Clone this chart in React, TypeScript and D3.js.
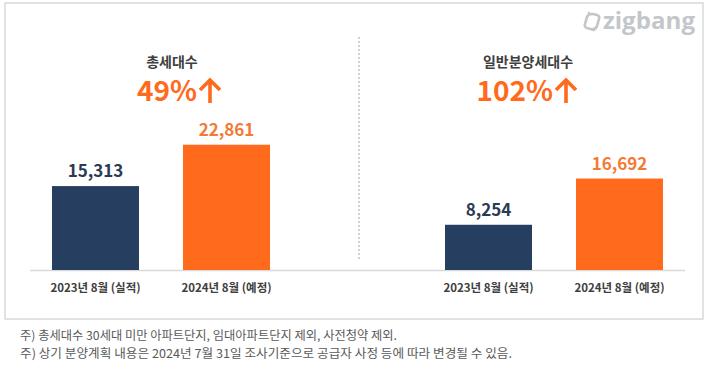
import React, { useRef, useEffect } from 'react'
import * as d3 from 'd3'

// chart data
const categories = ['2023년 8월 (실적)', '2024년 8월 (예정)']
const totalUnits = [15313, 22861]
const generalUnits = [8254, 16692]
const panelTitles = ['총세대수', '일반분양세대수']
const growthLabels = ['49%', '102%']
const footnotes = [
  '주) 총세대수 30세대 미만 아파트단지, 임대아파트단지 제외, 사전청약 제외.',
  '주) 상기 분양계획 내용은 2024년 7월 31일 조사기준으로 공급자 사정 등에 따라 변경될 수 있음.',
]
const footnoteWidths = [377, 492]

const W = 710
const H = 371
const FONT = '"Noto Sans CJK KR", "Noto Sans", sans-serif'
const NAVY = '#263e60'
const ORANGE = '#ff6a1c'
const ORANGE_TXT = '#f47a34'

export default function App() {
  const ref = useRef<SVGSVGElement>(null)

  useEffect(() => {
    const svg = d3.select(ref.current)
    svg.selectAll('*').remove()

    const baseY = 270
    const y = d3.scaleLinear().domain([0, 25000]).range([baseY, baseY - 137])

    // outer frame
    svg.append('rect')
      .attr('x', 5).attr('y', 3).attr('width', 698).attr('height', 316)
      .attr('fill', '#fff').attr('stroke', '#d9d9d9').attr('stroke-width', 1.5)

    // divider
    svg.append('line')
      .attr('x1', 359).attr('x2', 359).attr('y1', 37).attr('y2', 260)
      .attr('stroke', '#a6a6a6').attr('stroke-width', 1).attr('stroke-dasharray', '2,2')

    // baseline
    svg.append('line')
      .attr('x1', 30).attr('x2', 685).attr('y1', baseY + 0.5).attr('y2', baseY + 0.5)
      .attr('stroke', '#d9d9d9').attr('stroke-width', 1.5)

    const panels = [
      { values: totalUnits, range: [30, 292], cx: 172 },
      { values: generalUnits, range: [423, 685], cx: 528 },
    ]

    panels.forEach((p, i) => {
      const x = d3.scaleBand().domain(categories).range(p.range as [number, number])
        .paddingInner(0.336).paddingOuter(0.168)
      const g = svg.append('g')
      const rows = categories.map((c, j) => ({ c, v: p.values[j], j }))

      g.selectAll('rect.bar').data(rows).join('rect')
        .attr('class', 'bar')
        .attr('x', d => x(d.c)!)
        .attr('width', x.bandwidth())
        .attr('y', d => y(d.v))
        .attr('height', d => baseY - y(d.v))
        .attr('fill', d => d.j === 0 ? NAVY : ORANGE)

      g.selectAll('text.val').data(rows).join('text')
        .attr('class', 'val')
        .attr('x', d => x(d.c)! + x.bandwidth() / 2)
        .attr('y', d => y(d.v) - 9)
        .attr('text-anchor', 'middle')
        .attr('font-family', FONT).attr('font-weight', 700).attr('font-size', 17)
        .attr('fill', d => d.j === 0 ? '#2b3a52' : ORANGE_TXT)
        .text(d => d3.format(',')(d.v))

      g.selectAll('text.cat').data(rows).join('text')
        .attr('class', 'cat')
        .attr('x', d => x(d.c)! + x.bandwidth() / 2)
        .attr('y', 292)
        .attr('text-anchor', 'middle')
        .attr('font-family', FONT).attr('font-weight', 700).attr('font-size', 11.5)
        .attr('fill', '#404040')
        .text(d => d.c)

      // title + growth
      g.append('text')
        .attr('x', p.cx).attr('y', 67)
        .attr('text-anchor', 'middle')
        .attr('font-family', FONT).attr('font-weight', 700).attr('font-size', 14)
        .attr('fill', '#404040')
        .text(panelTitles[i])

      g.append('text')
        .attr('x', p.cx + 25).attr('y', 101)
        .attr('text-anchor', 'end')
        .attr('font-family', FONT).attr('font-weight', 700).attr('font-size', 28)
        .attr('fill', ORANGE)
        .text(growthLabels[i])

      const ax = p.cx + 38
      g.append('path')
        .attr('d', `M${ax},103 L${ax},80 M${ax - 10},90 L${ax},80 L${ax + 10},90`)
        .attr('fill', 'none').attr('stroke', ORANGE).attr('stroke-width', 3.6)
        .attr('stroke-linecap', 'butt').attr('stroke-linejoin', 'miter')
    })

    // logo
    const logo = svg.append('g').attr('fill', 'none').attr('stroke', '#c3c6ca')
      .attr('stroke-width', 2.6).attr('stroke-linecap', 'round')
    logo.append('path')
      .attr('d', 'M592,14 Q588,14 587,17 L585,24 Q584,27 587,28 L594,30')
    logo.append('path')
      .attr('d', 'M589,13 L597,15 Q600,16 599,19 L597,26 Q596,29 593,29')
      .attr('stroke-dasharray', '0,4,40')
    svg.append('text')
      .attr('x', 603).attr('y', 29)
      .attr('font-family', '"Open Sans", "Noto Sans", sans-serif').attr('font-weight', 700)
      .attr('font-size', 23).attr('fill', '#c3c6ca')
      .attr('textLength', 92).attr('lengthAdjust', 'spacingAndGlyphs')
      .text('zigbang')

    // footnotes
    svg.selectAll('text.note').data(footnotes).join('text')
      .attr('class', 'note')
      .attr('x', 20)
      .attr('y', (_, i) => 340 + i * 17.5)
      .attr('font-family', FONT).attr('font-size', 12)
      .attr('fill', '#595959')
      .attr('textLength', (_, i) => footnoteWidths[i])
      .attr('lengthAdjust', 'spacingAndGlyphs')
      .text(d => d)
  }, [])

  return (
    <div style={{ position: 'fixed', left: 0, top: 0 }}>
      <svg ref={ref} width={W} height={H} style={{ display: 'block', background: '#fff' }} />
    </div>
  )
}
